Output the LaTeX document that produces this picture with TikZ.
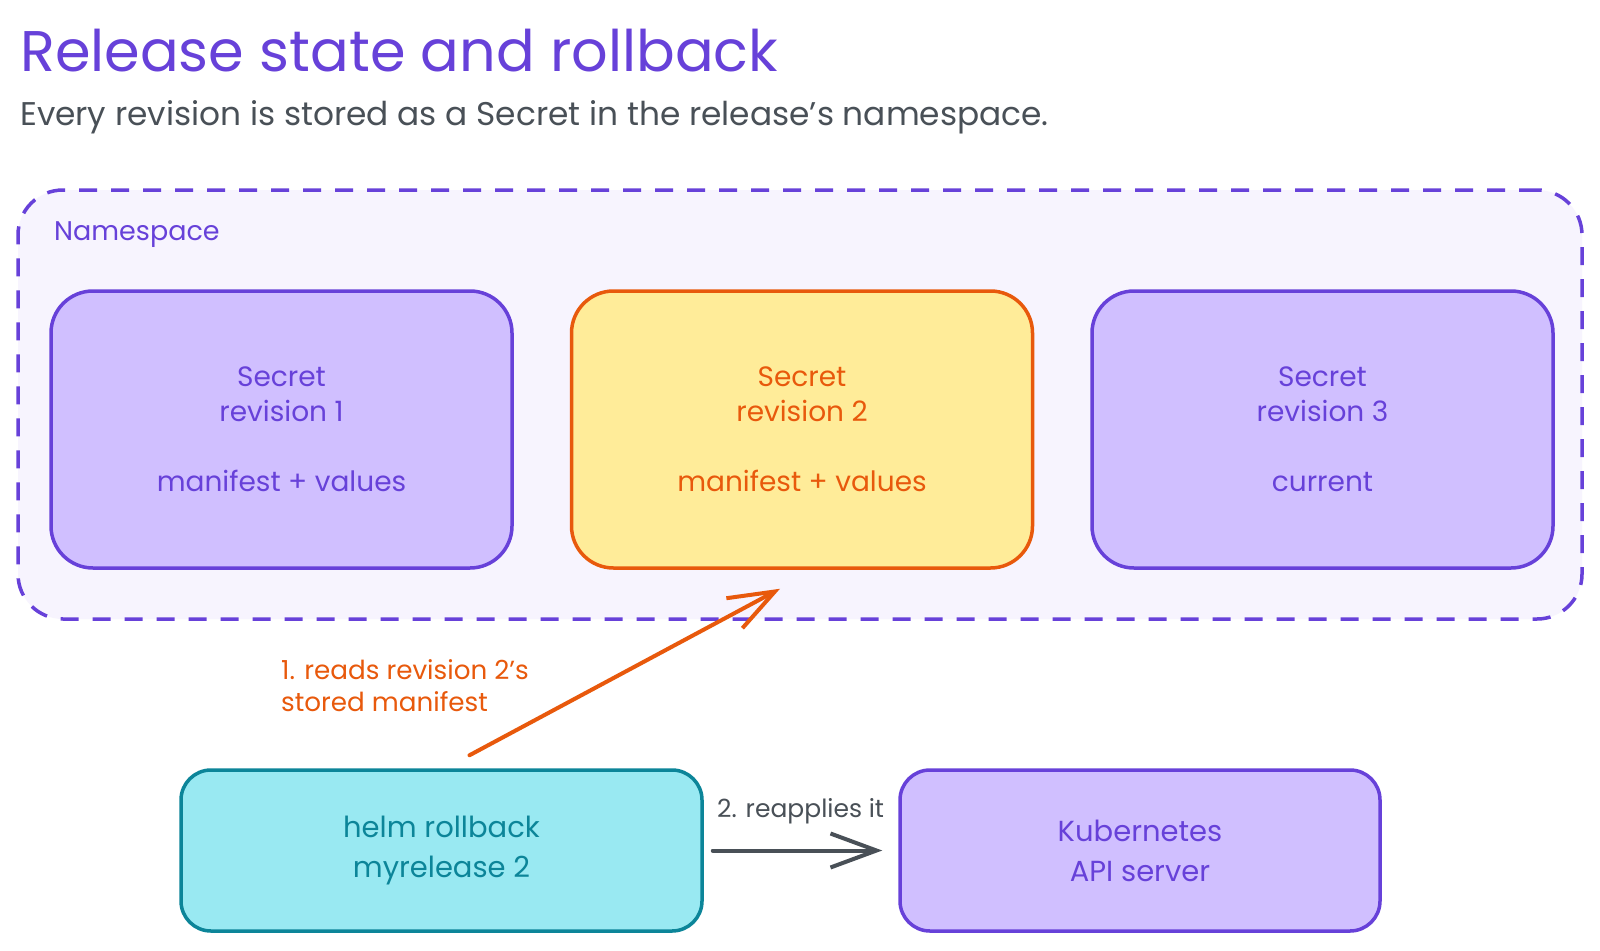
\documentclass[tikz,border=0pt]{standalone}
\usepackage{fontspec}
\setmainfont{Poppins}
\usetikzlibrary{arrows.meta,calc}
\definecolor{violet}{HTML}{6741D9}
\definecolor{lav}{HTML}{D0BFFF}
\definecolor{nsfill}{HTML}{F7F4FE}
\definecolor{orng}{HTML}{E8590C}
\definecolor{yell}{HTML}{FFEC99}
\definecolor{cyanfill}{HTML}{99E9F2}
\definecolor{teal}{HTML}{0C8599}
\definecolor{slate}{HTML}{495057}
\tikzset{
  secretbox/.style={draw=violet, fill=lav, text=violet, line width=3.5pt, rounded corners=42pt,
    minimum width=461pt, minimum height=277pt, align=center, inner sep=0pt,
    font=\fontsize{28}{35}\selectfont},
  hotbox/.style={secretbox, draw=orng, fill=yell, text=orng},
  cmdbox/.style={draw=teal, fill=cyanfill, text=teal, line width=3.5pt, rounded corners=30pt,
    minimum width=521pt, minimum height=161pt, align=center, inner sep=0pt,
    font=\fontsize{29}{40}\selectfont},
  apibox/.style={cmdbox, draw=violet, fill=lav, text=violet, minimum width=480pt},
  nsbox/.style={draw=violet, fill=nsfill, line width=3.5pt, dash pattern=on 18pt off 14pt,
    rounded corners=45pt, minimum width=1564pt, minimum height=429pt, inner sep=0pt},
  flow/.style={line width=4pt, line cap=round, -{Straight Barb[length=46pt,width=34pt,line width=4pt]}},
  lbl/.style={inner sep=0pt, align=left},
}
\begin{document}
\begin{tikzpicture}[x=1pt,y=-1pt]
\useasboundingbox[fill=white] (0,0) rectangle (1600,950);
% title
\node[anchor=base west, inner sep=0pt, text=violet, font=\fontsize{57.3}{60}\selectfont] (title) at (20,71) {Release state and rollback};
\node[anchor=base west, inner sep=0pt, text=slate, font=\fontsize{32.8}{36}\selectfont] (sub) at (20,125) {Every revision is stored as a Secret in the release's namespace.};
% namespace
\node[nsbox] (ns) at (800,404.5) {};
\node[anchor=base west, inner sep=0pt, text=violet, font=\fontsize{27}{30}\selectfont] (nslabel) at (54,240) {Namespace};
% secrets
\node[secretbox] (s1) at (281.5,429.5) {Secret\\revision 1\\[35pt]manifest + values};
\node[hotbox] (s2) at (802,429.5) {Secret\\revision 2\\[35pt]manifest + values};
\node[secretbox] (s3) at (1322.5,429.5) {Secret\\revision 3\\[35pt]current};
% bottom
\node[cmdbox] (helm) at (441.5,850.5) {helm rollback\\myrelease 2};
\node[apibox] (api) at (1140,850.5) {Kubernetes\\API server};
% arrows
\coordinate (a1s) at ([xshift=28pt,yshift=13pt]helm.north);
\coordinate (a1e) at ([xshift=-22pt,yshift=-19pt]s2.south);
\draw[flow, orng] (a1s) -- (a1e);
\draw[flow, slate, shorten <=9pt, shorten >=16pt] (helm.east) -- (api.west);
% labels
\node[lbl, text=orng, anchor=west, font=\fontsize{26.2}{32}\selectfont] (l1) at (281,686) {1. reads revision 2's\\stored manifest};
\node[lbl, text=slate, anchor=west, font=\fontsize{25}{32}\selectfont] (l2) at (717,811) {2. reapplies it};
\end{tikzpicture}
\end{document}
